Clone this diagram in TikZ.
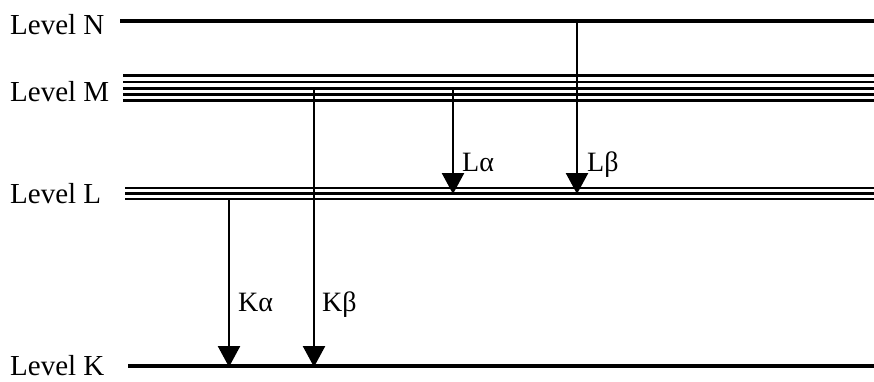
\documentclass[tikz,border=0pt]{standalone}
\usepackage{fontspec}
\setmainfont{Liberation Serif}
\usetikzlibrary{arrows.meta}
\begin{document}
\begin{tikzpicture}[x=1pt,y=-1pt,
  lvltext/.style={anchor=base west,inner sep=0pt,font=\fontsize{29}{30}\selectfont},
  lvl/.style={line width=3.5pt},
  sub/.style={line width=2.6pt},
  trans/.style={line width=2.5pt,-{Triangle[length=21pt,width=22pt]},shorten >=-1pt},
  tlabel/.style={anchor=base west,inner sep=0pt,font=\fontsize{28}{29}\selectfont}]
\useasboundingbox (0,0) rectangle (874,381);

% level names
\node[lvltext] (tN) at (10,34) {Level N};
\node[lvltext] (tM) at (10,101) {Level M};
\node[lvltext] (tL) at (10,203) {Level L};
\node[lvltext] (tK) at (10,375) {Level K};

% level N: single line
\draw[lvl] (120,21) -- (874,21);
% level M: five sub-levels
\foreach \y in {75.5,82,88.5,94.5,100.5}
  \draw[sub] (123,\y) -- (874,\y);
% level L: three sub-levels
\foreach \y in {188,193.5,199}
  \draw[sub] (125,\y) -- (874,\y);
% level K: single line
\draw[lvl] (128,366) -- (874,366);

% anchor points for the transitions
\coordinate (ka0) at (229,199);  \coordinate (ka1) at (229,366);
\coordinate (kb0) at (314,88.5); \coordinate (kb1) at (314,366);
\coordinate (la0) at (453,88.5); \coordinate (la1) at (453,193);
\coordinate (lb0) at (577,21);   \coordinate (lb1) at (577,193);

\draw[trans] (ka0) -- (ka1);
\draw[trans] (kb0) -- (kb1);
\draw[trans] (la0) -- (la1);
\draw[trans] (lb0) -- (lb1);

\node[tlabel] (lka) at (238,311) {Kα};
\node[tlabel] (lkb) at (322,311) {Kβ};
\node[tlabel] (lla) at (462,171) {Lα};
\node[tlabel] (llb) at (587,171) {Lβ};
\end{tikzpicture}
\end{document}
